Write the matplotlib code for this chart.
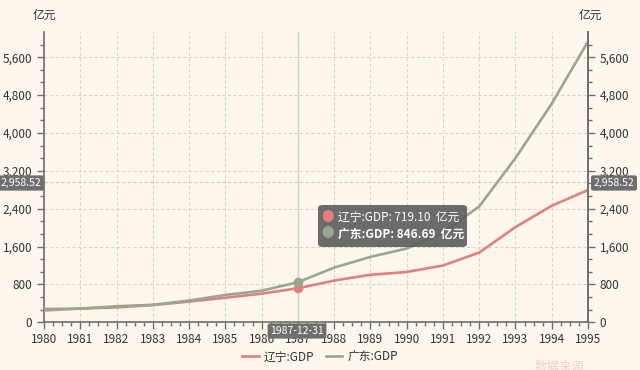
import matplotlib
matplotlib.use('Agg')
import matplotlib.pyplot as plt
from matplotlib.patches import FancyBboxPatch
from matplotlib.ticker import MultipleLocator, FuncFormatter

plt.rcParams['font.family'] = ['Noto Sans CJK SC', 'DejaVu Sans']

# data (亿元)
years = [1980, 1981, 1982, 1983, 1984, 1985, 1986, 1987,
         1988, 1989, 1990, 1991, 1992, 1993, 1994, 1995]
liaoning = [281.0, 288.6, 315.1, 364.0, 438.2, 518.6, 605.3, 719.1,
            881.0, 1003.8, 1062.7, 1200.1, 1473.0, 2010.8, 2461.8, 2793.4]
guangdong = [249.65, 290.36, 339.92, 368.75, 458.74, 577.38, 667.53, 846.69,
             1155.37, 1381.39, 1559.03, 1893.30, 2447.54, 3469.28, 4619.02, 5933.05]
names = ['辽宁:GDP', '广东:GDP']
hover_year = 1987
hover_label = '1987-12-31'
pointer_y = 2958.52

bg = '#fef7ee'
red = '#e47f7f'
green = '#97a88e'
axcol = '#6e6e6e'
txt = '#333333'

fig = plt.figure(figsize=(6.4, 3.7), dpi=100, facecolor=bg)
ax = fig.add_axes([44/640, 1-322.3/370, (588-44)/640, (322.3-32)/370])
ax.set_facecolor(bg)

ax.plot(years, liaoning, color=red, lw=1.9, label=names[0], zorder=3)
ax.plot(years, guangdong, color=green, lw=1.9, label=names[1], zorder=3)

i = years.index(hover_year)
ax.plot([hover_year], [liaoning[i]], 'o', ms=6, color=red, zorder=4)
ax.plot([hover_year], [guangdong[i]], 'o', ms=6, color=green, zorder=4)

ax.set_xlim(1980, 1995)
ax.set_ylim(0, 6133)

ax.xaxis.set_major_locator(MultipleLocator(1))
ax.xaxis.set_minor_locator(MultipleLocator(0.25))
ax.yaxis.set_major_locator(MultipleLocator(800))
ax.yaxis.set_minor_locator(MultipleLocator(800/3))
fmt = FuncFormatter(lambda v, p: f'{int(v):,}')
ax.yaxis.set_major_formatter(fmt)
ax.xaxis.set_major_formatter(FuncFormatter(lambda v, p: f'{int(v)}'))

ax.grid(True, which='major', color='#d9d4cb', ls=(0, (3, 2)), lw=0.8)
ax.spines['top'].set_visible(False)
for s in ['left', 'right', 'bottom']:
    ax.spines[s].set_color(axcol)
    ax.spines[s].set_linewidth(1.2)

ax.tick_params(axis='both', which='major', colors=axcol, labelcolor=txt,
               labelsize=8.5, length=5, width=1)
ax.tick_params(axis='both', which='minor', colors=axcol, length=3, width=1)
ax.tick_params(axis='x', pad=3)

ax2 = ax.twinx()
ax2.set_ylim(ax.get_ylim())
ax2.yaxis.set_major_locator(MultipleLocator(800))
ax2.yaxis.set_minor_locator(MultipleLocator(800/3))
ax2.yaxis.set_major_formatter(fmt)
ax2.tick_params(axis='y', which='major', colors=axcol, labelcolor=txt,
                labelsize=8.5, length=5, width=1)
ax2.tick_params(axis='y', which='minor', colors=axcol, length=3, width=1)
for s in ['top', 'left', 'bottom']:
    ax2.spines[s].set_visible(False)
ax2.spines['right'].set_color(axcol)
ax2.spines['right'].set_linewidth(1.2)

# axis pointer lines
ax.axvline(hover_year, color='#d6d2ca', lw=1, zorder=2)
ax.axhline(pointer_y, color='#cfcac2', lw=0.8, ls=(0, (3, 2)), zorder=2)

# units
fig.text(44/640, 1-15/370, '亿元', ha='center', va='center', fontsize=8.5, color=txt)
fig.text(590/640, 1-15/370, '亿元', ha='center', va='center', fontsize=8.5, color=txt)

# pointer labels
box = dict(boxstyle='round,pad=0.25,rounding_size=0.2', fc='#6e6e6e', ec='none')
fig.text(21/640, 1-183/370, f'{pointer_y:,.2f}', ha='center', va='center',
         fontsize=7.5, color='white', bbox=box)
fig.text(614/640, 1-183/370, f'{pointer_y:,.2f}', ha='center', va='center',
         fontsize=7.5, color='white', bbox=box)
fig.text(297/640, 1-331/370, hover_label, ha='center', va='center',
         fontsize=7.5, color='white', bbox=box)

# tooltip
tip = FancyBboxPatch((318/640, 1-247/370), (467-318)/640, (247-205)/370,
                     boxstyle='round,pad=0,rounding_size=0.008',
                     transform=fig.transFigure, fc='#5f5f5f', ec='none',
                     alpha=0.92, zorder=10)
fig.patches.append(tip)
fig.text(328/640, 1-217/370, '●', ha='center', va='center', fontsize=9,
         color=red, zorder=11)
fig.text(328/640, 1-234/370, '●', ha='center', va='center', fontsize=9,
         color=green, zorder=11)
fig.text(338/640, 1-217/370, f'{names[0]}: {liaoning[i]:.2f}  亿元', ha='left',
         va='center', fontsize=8.5, color='white', zorder=11)
fig.text(338/640, 1-234/370, f'{names[1]}: {guangdong[i]:.2f}  亿元', ha='left',
         va='center', fontsize=8.5, color='white', fontweight='bold', zorder=11)

# legend
leg = fig.legend(loc='center', bbox_to_anchor=(0.5, 1-357/370), ncol=2,
                 frameon=False, fontsize=8.5, handlelength=1.4,
                 columnspacing=1.0, handletextpad=0.4)
for t in leg.get_texts():
    t.set_color(txt)

# watermark
fig.text(560/640, -4/370, '数据来源', ha='center', va='bottom', fontsize=9,
         color='#e8b0b0', alpha=0.6)

fig.savefig('out.png', dpi=100, facecolor=bg)
